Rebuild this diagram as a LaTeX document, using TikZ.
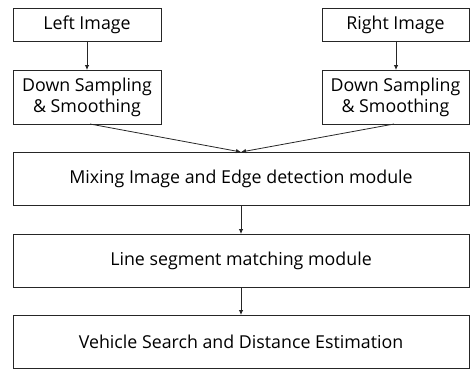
\documentclass[tikz,border=0pt]{standalone}
\usepackage{fontspec}
\setmainfont{Open Sans}
\usetikzlibrary{arrows.meta}
\begin{document}
\begin{tikzpicture}[x=1pt,y=-1pt,
  box/.style={draw=black!85,line width=0.9pt},
  lbl/.style={font=\fontsize{17.8}{21}\selectfont,align=center,inner sep=0pt},
  arr/.style={draw=black!85,line width=0.8pt,-{Latex[length=5pt,width=4.5pt]}}]
\useasboundingbox (0,0) rectangle (470,369);
\draw[box] (13,8) rectangle (161,41) node[lbl,midway] (li) {Left Image};
\draw[box] (322,8) rectangle (469,41) node[lbl,midway] (ri) {Right Image};
\draw[box] (13,70) rectangle (161,124) node[lbl,midway] (ld) {Down Sampling\\\& Smoothing};
\draw[box] (322,70) rectangle (469,124) node[lbl,midway] (rd) {Down Sampling\\\& Smoothing};
\draw[box] (13,152) rectangle (469,205) node[lbl,midway] (mx) {Mixing Image and Edge detection module};
\draw[box] (13,234) rectangle (469,287) node[lbl,midway] (ls) {Line segment matching module};
\draw[box] (13,315) rectangle (469,368) node[lbl,midway] (vs) {Vehicle Search and Distance Estimation};
\coordinate (a1) at (87,41); \coordinate (a2) at (87,70);
\coordinate (b1) at (396,41); \coordinate (b2) at (396,70);
\coordinate (c1) at (90,124); \coordinate (c2) at (394,124); \coordinate (m) at (241,152);
\coordinate (d1) at (241,205); \coordinate (d2) at (241,234);
\coordinate (e1) at (241,287); \coordinate (e2) at (241,315);
\draw[arr] (a1) -- (a2);
\draw[arr] (b1) -- (b2);
\draw[arr] (c1) -- (m);
\draw[arr] (c2) -- (m);
\draw[arr] (d1) -- (d2);
\draw[arr] (e1) -- (e2);
\end{tikzpicture}
\end{document}
